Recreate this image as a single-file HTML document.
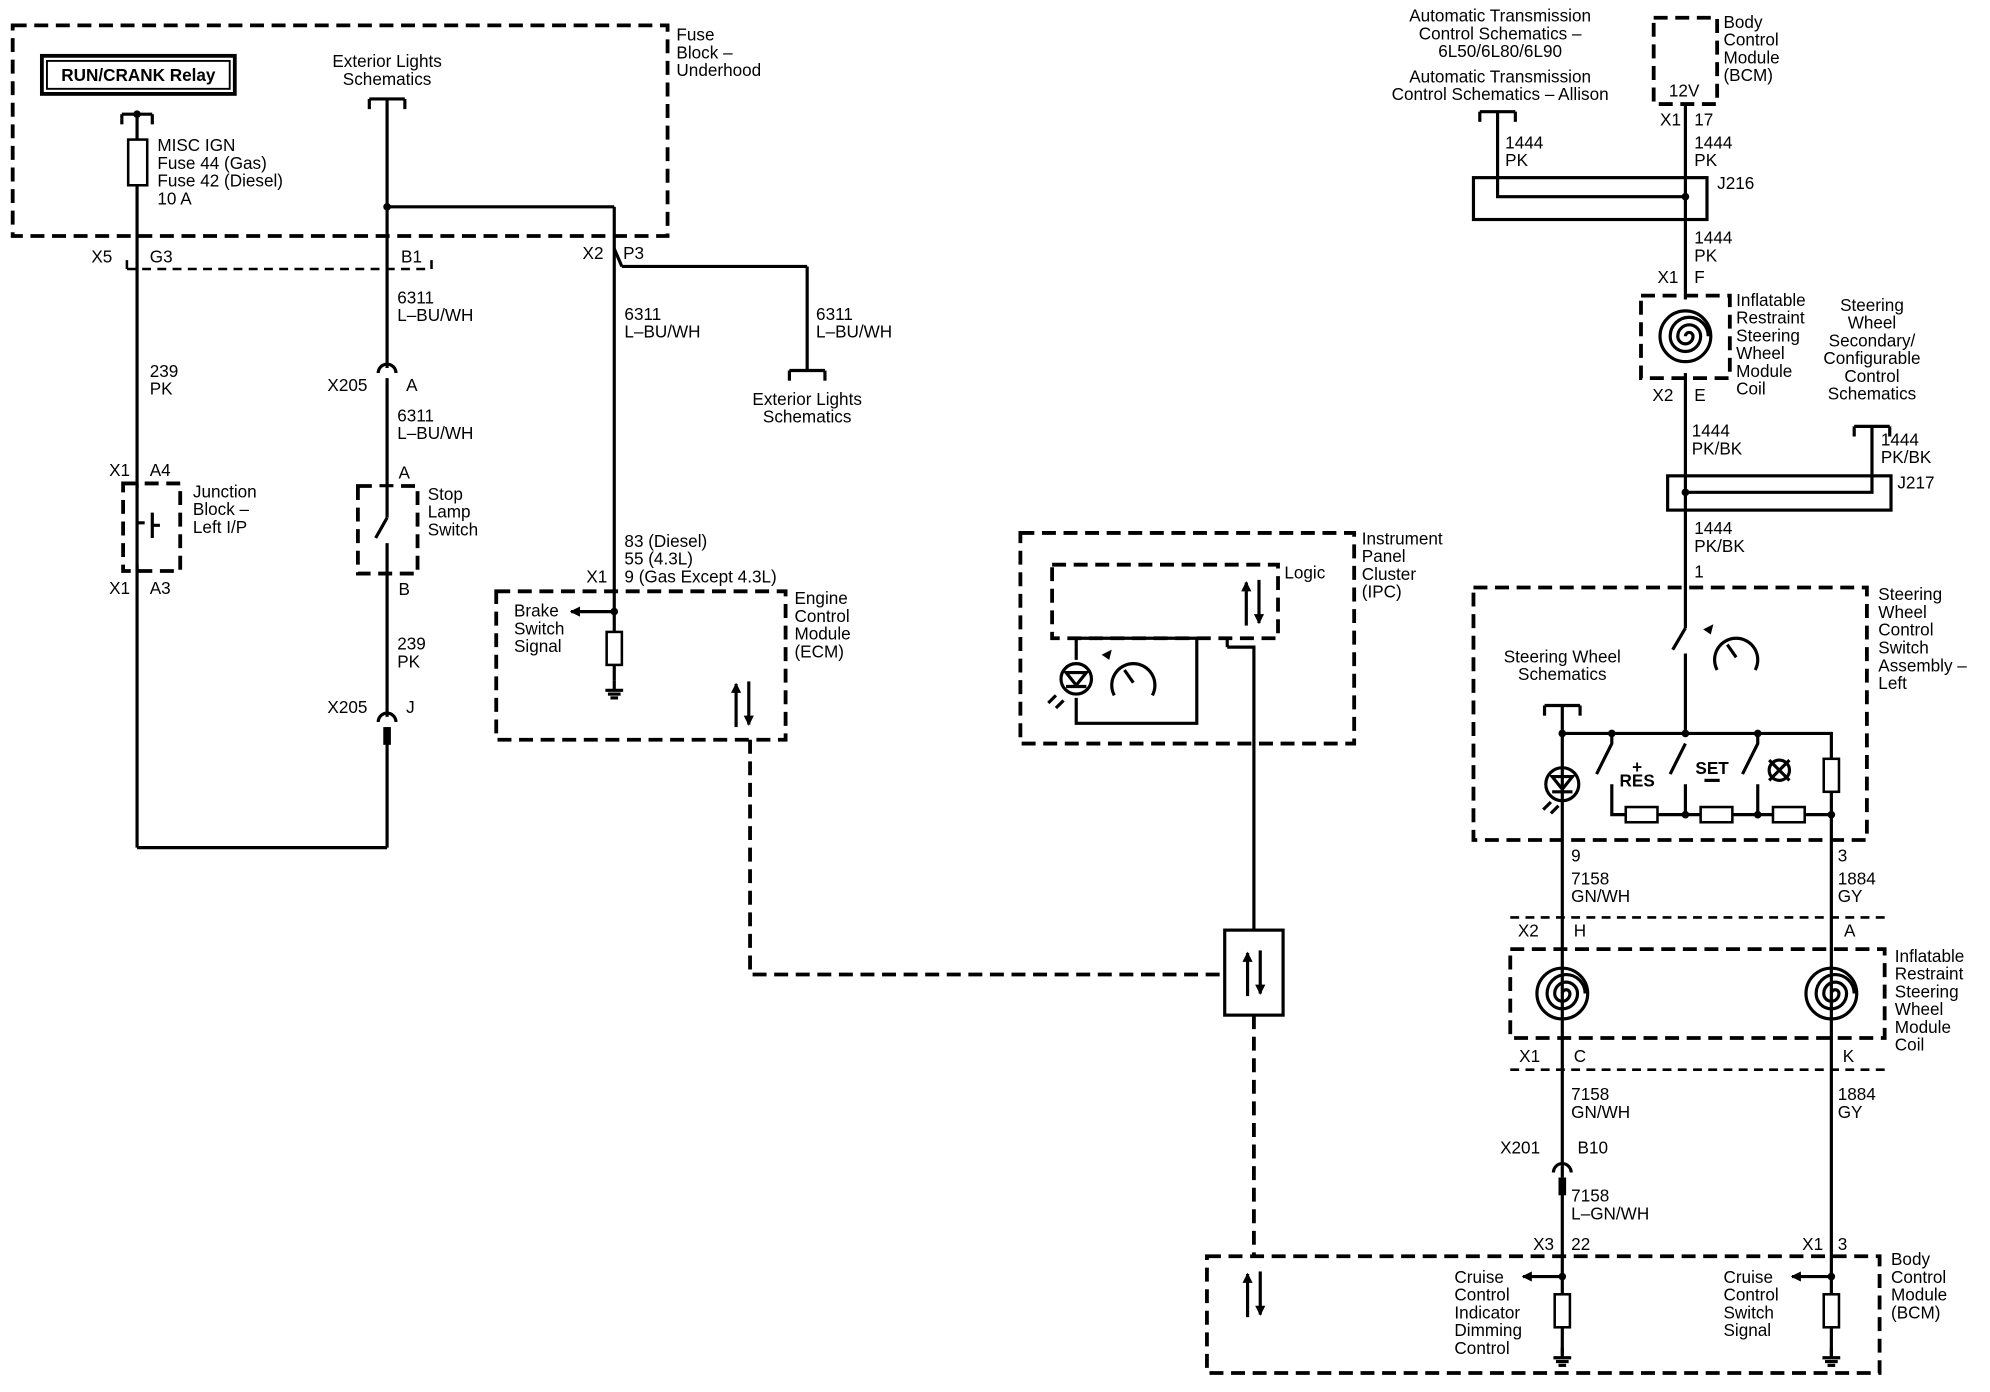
<!DOCTYPE html>
<html><head><meta charset="utf-8"><style>
html,body{margin:0;padding:0;background:#fff;}
svg{display:block;}
text{font-family:"Liberation Sans",sans-serif;font-size:13.5px;fill:#000;}
.w{stroke:#000;stroke-width:2.5;fill:none;}
.d{stroke:#000;stroke-width:3;fill:none;stroke-dasharray:11,6;}
.dt{stroke:#000;stroke-width:2;fill:none;stroke-dasharray:7,5;}
.r{stroke:#000;stroke-width:2;fill:#fff;}
.m{text-anchor:middle;}
.e{text-anchor:end;}
</style></head><body>
<svg width="1990" height="1392" viewBox="0 0 1568 1097" preserveAspectRatio="none" xmlns="http://www.w3.org/2000/svg">
<defs>
<marker id="ah" markerWidth="8" markerHeight="8" refX="7" refY="4" orient="auto" markerUnits="userSpaceOnUse"><path d="M0,0 L8,4 L0,8 z" fill="#000"/></marker>
<g id="bi"><line x1="-5" y1="38" x2="-5" y2="4" class="w" marker-end="url(#ah)"/><line x1="5" y1="2" x2="5" y2="36" class="w" marker-end="url(#ah)"/></g>
<g id="gnd"><line x1="0" y1="0" x2="0" y2="8" class="w"/><line x1="-7" y1="8" x2="7" y2="8" class="w" stroke-width="2"/><line x1="-5" y1="11" x2="5" y2="11" class="w" stroke-width="2"/><line x1="-3" y1="14" x2="3" y2="14" class="w" stroke-width="2"/></g>
<g id="coil"><circle r="20" class="w"/><path d="M0,0 a3,3 0 0 1 6,0 a6,6 0 0 1 -12,0 a9,9 0 0 1 18,0 a12,12 0 0 1 -24,0 a15,15 0 0 1 30,0" class="w" stroke-width="2"/></g>
<g id="br"><line x1="-14" y1="0" x2="14" y2="0" class="w"/><line x1="-14" y1="0" x2="-14" y2="8" class="w"/><line x1="14" y1="0" x2="14" y2="8" class="w"/></g>
<g id="cn"><path d="M-7,-4 A7,7 0 0 1 7,-4" class="w"/></g>
</defs>

<!-- Fuse block -->
<rect x="10" y="20" width="516" height="166" class="d"/>
<rect x="33" y="44" width="152" height="30" fill="none" stroke="#000" stroke-width="3"/>
<rect x="37" y="48" width="144" height="22" fill="none" stroke="#000" stroke-width="1.5"/>
<text x="109" y="64" class="m" font-weight="bold">RUN/CRANK Relay</text>
<line x1="96" y1="90" x2="120" y2="90" class="w"/><line x1="96" y1="90" x2="96" y2="98" class="w"/><line x1="120" y1="90" x2="120" y2="98" class="w"/>
<circle cx="108" cy="90" r="3"/>
<line x1="108" y1="90" x2="108" y2="668" class="w"/>
<rect x="101" y="110" width="15" height="36" class="r"/>
<text x="124" y="119">MISC IGN</text><text x="124" y="133">Fuse 44 (Gas)</text><text x="124" y="147">Fuse 42 (Diesel)</text><text x="124" y="161">10 A</text>
<text x="305" y="53" class="m">Exterior Lights</text><text x="305" y="67" class="m">Schematics</text>
<use href="#br" x="305" y="78"/>
<line x1="305" y1="78" x2="305" y2="290" class="w"/>
<circle cx="305" cy="163" r="3"/>
<line x1="305" y1="163" x2="484" y2="163" class="w"/>
<line x1="484" y1="163" x2="484" y2="498" class="w"/>
<line x1="490" y1="210" x2="636" y2="210" class="w"/><line x1="484" y1="196" x2="490" y2="210" class="w"/>
<line x1="636" y1="210" x2="636" y2="292" class="w"/>
<use href="#br" x="636" y="292"/>
<text x="636" y="319" class="m">Exterior Lights</text><text x="636" y="333" class="m">Schematics</text>
<text x="533" y="32">Fuse</text><text x="533" y="46">Block –</text><text x="533" y="60">Underhood</text>
<path d="M100,212 H340 V200" class="dt"/><line x1="100" y1="212" x2="100" y2="200" class="dt"/>
<text x="72" y="207">X5</text><text x="118" y="207">G3</text><text x="316" y="207">B1</text>
<text x="459" y="204">X2</text><text x="491" y="204">P3</text>
<text x="313" y="239">6311</text><text x="313" y="253">L–BU/WH</text>
<text x="492" y="252">6311</text><text x="492" y="266">L–BU/WH</text>
<text x="643" y="252">6311</text><text x="643" y="266">L–BU/WH</text>
<text x="118" y="297">239</text><text x="118" y="311">PK</text>
<use href="#cn" x="305" y="298"/><line x1="305" y1="298" x2="305" y2="412" class="w"/>
<text x="258" y="308">X205</text><text x="320" y="308">A</text>
<text x="313" y="332">6311</text><text x="313" y="346">L–BU/WH</text>
<!-- junction block -->
<rect x="97" y="381" width="45" height="69" class="d"/>
<rect x="104" y="384" width="8" height="62" fill="#fff"/>
<line x1="108" y1="381" x2="108" y2="450" class="w"/>
<path d="M108,412 H114 M120,404 V424 M120,414 H126" class="w" stroke-width="2"/>
<text x="86" y="375">X1</text><text x="118" y="375">A4</text><text x="86" y="468">X1</text><text x="118" y="468">A3</text>
<text x="152" y="392">Junction</text><text x="152" y="406">Block –</text><text x="152" y="420">Left I/P</text>
<!-- stop lamp -->
<rect x="282" y="383" width="47" height="69" class="d"/>
<rect x="295" y="384" width="20" height="66" fill="#fff"/>
<line x1="305" y1="383" x2="305" y2="408" class="w"/>
<line x1="296" y1="424" x2="305" y2="408" class="w"/>
<line x1="305" y1="428" x2="305" y2="565" class="w"/>
<text x="314" y="377">A</text><text x="314" y="469">B</text>
<text x="337" y="394">Stop</text><text x="337" y="408">Lamp</text><text x="337" y="422">Switch</text>
<text x="313" y="512">239</text><text x="313" y="526">PK</text>
<use href="#cn" x="305" y="573"/><line x1="305" y1="573" x2="305" y2="668" class="w"/><rect x="302" y="573" width="6" height="14"/>
<text x="258" y="562">X205</text><text x="320" y="562">J</text>
<line x1="108" y1="668" x2="305" y2="668" class="w"/>
<!-- ECM -->
<text x="492" y="431">83 (Diesel)</text><text x="492" y="445">55 (4.3L)</text><text x="492" y="459">9 (Gas Except 4.3L)</text>
<text x="462" y="459">X1</text>
<rect x="391" y="466" width="228" height="117" class="d"/>
<text x="405" y="486">Brake</text><text x="405" y="500">Switch</text><text x="405" y="514">Signal</text>
<line x1="484" y1="482" x2="450" y2="482" class="w" marker-end="url(#ah)"/>
<circle cx="484" cy="482" r="3"/>
<rect x="478" y="498" width="12" height="26" class="r"/>
<line x1="484" y1="524" x2="484" y2="536" class="w"/>
<use href="#gnd" x="484" y="536"/>
<use href="#bi" x="585" y="535"/>
<text x="626" y="476">Engine</text><text x="626" y="490">Control</text><text x="626" y="504">Module</text><text x="626" y="518">(ECM)</text>
<path d="M591,583 V768 H965" class="d"/>
<rect x="965" y="733" width="46" height="67" fill="#fff" stroke="#000" stroke-width="2.5"/>
<use href="#bi" x="988" y="747"/>
<!-- IPC -->
<rect x="804" y="420" width="263" height="166" class="d"/>
<rect x="829" y="445" width="178" height="58" class="d"/>
<text x="1012" y="456">Logic</text><text x="1073" y="429">Instrument</text><text x="1073" y="443">Panel</text><text x="1073" y="457">Cluster</text><text x="1073" y="471">(IPC)</text>
<use href="#bi" x="987" y="455"/>
<path d="M848,520 V503 H943 V570 H848 V550" class="w"/>
<line x1="967" y1="503" x2="967" y2="510" class="w"/>
<path d="M967,510 H988 V733" class="w"/>
<line x1="988" y1="800" x2="988" y2="990" class="d"/>
<circle cx="848" cy="535" r="12" class="w"/><path d="M840,530 H856 L848,540 Z M840,541 H856" class="w" stroke-width="2"/>
<path d="M832,548 l-6,6 M838,552 l-6,6" class="w" stroke-width="1.5"/>
<path d="M878,548 A17,17 0 1 1 908,548" class="w"/><line x1="893" y1="538" x2="886" y2="528" class="w"/>
<path d="M868,516 l8,-4 l-2,8z"/>
<!-- Right top -->
<text x="1182" y="17" class="m">Automatic Transmission</text><text x="1182" y="31" class="m">Control Schematics –</text><text x="1182" y="45" class="m">6L50/6L80/6L90</text>
<text x="1182" y="65" class="m">Automatic Transmission</text><text x="1182" y="79" class="m">Control Schematics – Allison</text>
<use href="#br" x="1180" y="88"/>
<path d="M1180,88 V155 H1328" class="w"/>
<rect x="1303" y="14" width="50" height="68" class="d"/>
<text x="1327" y="76" class="m">12V</text>
<text x="1358" y="22">Body</text><text x="1358" y="36">Control</text><text x="1358" y="50">Module</text><text x="1358" y="64">(BCM)</text>
<text x="1308" y="99">X1</text><text x="1335" y="99">17</text>
<line x1="1328" y1="82" x2="1328" y2="495" class="w"/>
<text x="1186" y="117">1444</text><text x="1186" y="131">PK</text><text x="1335" y="117">1444</text><text x="1335" y="131">PK</text>
<rect x="1161" y="140" width="184" height="33" fill="none" stroke="#000" stroke-width="2.5"/>
<circle cx="1328" cy="155" r="3"/>
<text x="1353" y="149">J216</text>
<text x="1335" y="192">1444</text><text x="1335" y="206">PK</text>
<text x="1306" y="223">X1</text><text x="1335" y="223">F</text>
<rect x="1293" y="233" width="70" height="65" class="d"/>
<rect x="1300" y="236" width="56" height="58" fill="#fff"/>
<use href="#coil" x="1328" y="265"/>
<text x="1368" y="241">Inflatable</text><text x="1368" y="255">Restraint</text><text x="1368" y="269">Steering</text><text x="1368" y="283">Wheel</text><text x="1368" y="297">Module</text><text x="1368" y="311">Coil</text>
<text x="1302" y="316">X2</text><text x="1335" y="316">E</text>
<text x="1333" y="344">1444</text><text x="1333" y="358">PK/BK</text>
<text x="1475" y="245" class="m">Steering</text><text x="1475" y="259" class="m">Wheel</text><text x="1475" y="273" class="m">Secondary/</text><text x="1475" y="287" class="m">Configurable</text><text x="1475" y="301" class="m">Control</text><text x="1475" y="315" class="m">Schematics</text>
<use href="#br" x="1475" y="336"/>
<path d="M1475,336 V388 H1328" class="w"/>
<text x="1482" y="351">1444</text><text x="1482" y="365">PK/BK</text>
<rect x="1314" y="375" width="176" height="27" fill="none" stroke="#000" stroke-width="2.5"/>
<circle cx="1328" cy="388" r="3"/>
<text x="1495" y="385">J217</text>
<text x="1335" y="421">1444</text><text x="1335" y="435">PK/BK</text><text x="1335" y="455">1</text>
<!-- SW assembly -->
<rect x="1161" y="463" width="310" height="199" class="d"/>
<text x="1480" y="473">Steering</text><text x="1480" y="487">Wheel</text><text x="1480" y="501">Control</text><text x="1480" y="515">Switch</text><text x="1480" y="529">Assembly –</text><text x="1480" y="543">Left</text>
<line x1="1318" y1="512" x2="1328" y2="495" class="w"/>
<line x1="1328" y1="515" x2="1328" y2="578" class="w"/>
<path d="M1353,528 A17,17 0 1 1 1383,528" class="w"/><line x1="1368" y1="518" x2="1361" y2="508" class="w"/>
<path d="M1342,496 l8,-4 l-2,8z"/>
<text x="1231" y="522" class="m">Steering Wheel</text><text x="1231" y="536" class="m">Schematics</text>
<use href="#br" x="1231" y="556"/>
<line x1="1231" y1="556" x2="1231" y2="1068" class="w"/>
<path d="M1231,578 H1443 V598" class="w"/>
<circle cx="1231" cy="578" r="3"/><circle cx="1270" cy="578" r="3"/><circle cx="1328" cy="578" r="3"/><circle cx="1385" cy="578" r="3"/>
<circle cx="1231" cy="618" r="13" class="w"/><path d="M1223,612 H1239 L1231,622 Z M1223,624 H1239" class="w" stroke-width="2"/>
<path d="M1222,632 l-6,6 M1228,635 l-6,6" class="w" stroke-width="1.5"/>
<path d="M1270,578 V586 L1258,610" class="w"/>
<path d="M1328,586 L1316,610" class="w"/>
<path d="M1385,578 V586 L1373,610" class="w"/>
<text x="1290" y="609" class="m" font-size="18" font-weight="bold">+</text>
<text x="1290" y="620" class="m" font-weight="bold">RES</text>
<text x="1349" y="610" class="m" font-weight="bold">SET</text>
<line x1="1343" y1="615" x2="1355" y2="615" class="w"/>
<circle cx="1402" cy="607" r="8" class="w"/><path d="M1394,599 L1410,615 M1410,599 L1394,615" class="w" stroke-width="2"/>
<path d="M1270,618 V642 H1443 M1328,618 V642 M1385,618 V642" class="w"/>
<circle cx="1328" cy="642" r="3"/><circle cx="1385" cy="642" r="3"/><circle cx="1443" cy="642" r="3"/>
<rect x="1281" y="636" width="25" height="12" class="r"/><rect x="1340" y="636" width="25" height="12" class="r"/><rect x="1397" y="636" width="25" height="12" class="r"/>
<rect x="1437" y="598" width="12" height="26" class="r"/>
<line x1="1443" y1="624" x2="1443" y2="1068" class="w"/>
<text x="1238" y="679">9</text><text x="1238" y="697">7158</text><text x="1238" y="711">GN/WH</text>
<text x="1448" y="679">3</text><text x="1448" y="697">1884</text><text x="1448" y="711">GY</text>
<path d="M1190,723 H1485" class="dt"/>
<text x="1196" y="738">X2</text><text x="1240" y="738">H</text><text x="1453" y="738">A</text>
<rect x="1190" y="748" width="295" height="70" class="d"/>
<use href="#coil" x="1231" y="783"/><use href="#coil" x="1443" y="783"/>
<text x="1493" y="758">Inflatable</text><text x="1493" y="772">Restraint</text><text x="1493" y="786">Steering</text><text x="1493" y="800">Wheel</text><text x="1493" y="814">Module</text><text x="1493" y="828">Coil</text>
<path d="M1190,843 H1485" class="dt"/>
<text x="1197" y="837">X1</text><text x="1240" y="837">C</text><text x="1452" y="837">K</text>
<text x="1238" y="867">7158</text><text x="1238" y="881">GN/WH</text>
<text x="1448" y="867">1884</text><text x="1448" y="881">GY</text>
<rect x="1226" y="928" width="10" height="10" fill="#fff"/>
<use href="#cn" x="1231" y="928"/><rect x="1228" y="928" width="6" height="14"/>
<text x="1182" y="909">X201</text><text x="1243" y="909">B10</text>
<text x="1238" y="947">7158</text><text x="1238" y="961">L–GN/WH</text>
<text x="1208" y="985">X3</text><text x="1238" y="985">22</text><text x="1420" y="985">X1</text><text x="1448" y="985">3</text>
<!-- BCM -->
<rect x="951" y="990" width="530" height="92" class="d"/>
<use href="#bi" x="988" y="1000"/>
<text x="1490" y="997">Body</text><text x="1490" y="1011">Control</text><text x="1490" y="1025">Module</text><text x="1490" y="1039">(BCM)</text>
<line x1="1231" y1="1006" x2="1200" y2="1006" class="w" marker-end="url(#ah)"/><circle cx="1231" cy="1006" r="3"/>
<text x="1146" y="1011">Cruise</text><text x="1146" y="1025">Control</text><text x="1146" y="1039">Indicator</text><text x="1146" y="1053">Dimming</text><text x="1146" y="1067">Control</text>
<rect x="1225" y="1020" width="12" height="26" class="r"/>
<use href="#gnd" x="1231" y="1062"/>
<line x1="1443" y1="1006" x2="1412" y2="1006" class="w" marker-end="url(#ah)"/><circle cx="1443" cy="1006" r="3"/>
<text x="1358" y="1011">Cruise</text><text x="1358" y="1025">Control</text><text x="1358" y="1039">Switch</text><text x="1358" y="1053">Signal</text>
<rect x="1437" y="1020" width="12" height="26" class="r"/>
<use href="#gnd" x="1443" y="1062"/>
</svg>
</body></html>
